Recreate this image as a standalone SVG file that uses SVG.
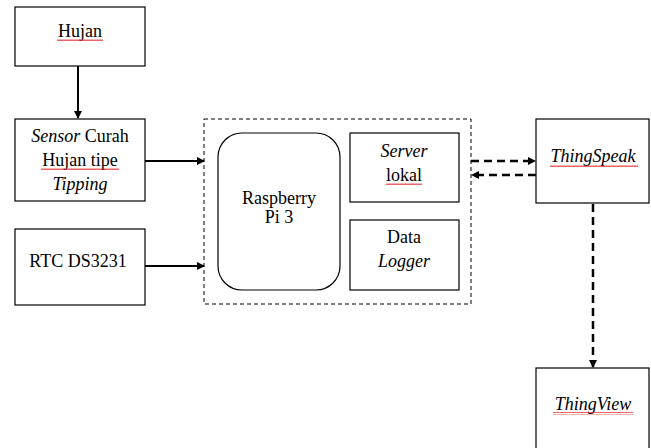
<svg xmlns="http://www.w3.org/2000/svg" width="651" height="448" viewBox="0 0 651 448">
<style>
.box{fill:#fff;stroke:#000;stroke-width:1.2}
.t{font-family:"Liberation Serif","Times New Roman",serif;font-size:18px;fill:#000;text-anchor:middle}
.i{font-style:italic}
.c{fill:none;stroke:#000;stroke-width:2}
.d{fill:none;stroke:#000;stroke-width:2.5;stroke-dasharray:8 5}
.sq{fill:none;stroke:#e02020;stroke-width:0.9}
</style>
<defs>
<marker id="ah" markerWidth="8" markerHeight="8" refX="7" refY="4" orient="auto" markerUnits="userSpaceOnUse">
<path d="M0,0 L8,4 L0,8 Z" fill="#000"/>
</marker>
<pattern id="wave" width="4" height="3" patternUnits="userSpaceOnUse">
<path d="M0,2 L1,0.5 L2,2 L3,0.5 L4,2" fill="none" stroke="#e02020" stroke-width="0.8"/>
</pattern>
</defs>
<rect width="651" height="448" fill="#fff"/>
<g id="connectors">
<line class="c" x1="78" y1="66" x2="78" y2="118" marker-end="url(#ah)"/>
<line class="c" x1="145" y1="161" x2="204" y2="161" marker-end="url(#ah)"/>
<line class="c" x1="145" y1="266" x2="204" y2="266" marker-end="url(#ah)"/>
<line class="d" x1="471" y1="161" x2="535" y2="161" marker-end="url(#ah)"/>
<line class="d" x1="536" y1="175" x2="472" y2="175" marker-end="url(#ah)"/>
<line class="d" x1="593" y1="204" x2="593" y2="367" marker-end="url(#ah)"/>
</g>
<g id="hujan">
<rect class="box" x="15" y="7" width="130" height="59"/>
<text class="t" x="80" y="37">Hujan</text>
<rect x="57" y="39" width="46" height="3" fill="url(#wave)"/>
</g>
<g id="sensor">
<rect class="box" x="15" y="119" width="130" height="82"/>
<text class="t" x="80" y="142"><tspan class="i">Sensor</tspan> Curah</text>
<text class="t" x="80" y="166">Hujan tipe</text>
<rect x="41" y="168" width="78" height="3" fill="url(#wave)"/>
<text class="t i" x="80" y="190">Tipping</text>
</g>
<g id="rtc">
<rect class="box" x="15" y="229" width="130" height="76"/>
<text class="t" x="78" y="267">RTC DS3231</text>
</g>
<g id="raspberry-group">
<rect x="204" y="119" width="267" height="185" fill="none" stroke="#000" stroke-width="1" stroke-dasharray="4 3"/>
<g id="raspberry">
<rect class="box" x="218" y="133" width="122" height="157" rx="24" ry="24"/>
<text class="t" x="279" y="204">Raspberry</text>
<text class="t" x="279" y="223">Pi 3</text>
</g>
<g id="server">
<rect class="box" x="350" y="133" width="109" height="69"/>
<text class="t i" x="404" y="157">Server</text>
<text class="t" x="404" y="181">lokal</text>
<rect x="386" y="183" width="36" height="3" fill="url(#wave)"/>
</g>
<g id="logger">
<rect class="box" x="350" y="220" width="109" height="70"/>
<text class="t" x="404" y="243">Data</text>
<text class="t i" x="404" y="267">Logger</text>
</g>
</g>
<g id="thingspeak">
<rect class="box" x="536" y="119" width="113" height="84"/>
<text class="t i" x="593" y="162">ThingSpeak</text>
<rect x="550" y="164" width="88" height="3" fill="url(#wave)"/>
</g>
<g id="thingview">
<rect class="box" x="536" y="368" width="113" height="84"/>
<text class="t i" x="593" y="410">ThingView</text>
<rect x="553" y="412" width="80" height="3" fill="url(#wave)"/>
</g>
</svg>
